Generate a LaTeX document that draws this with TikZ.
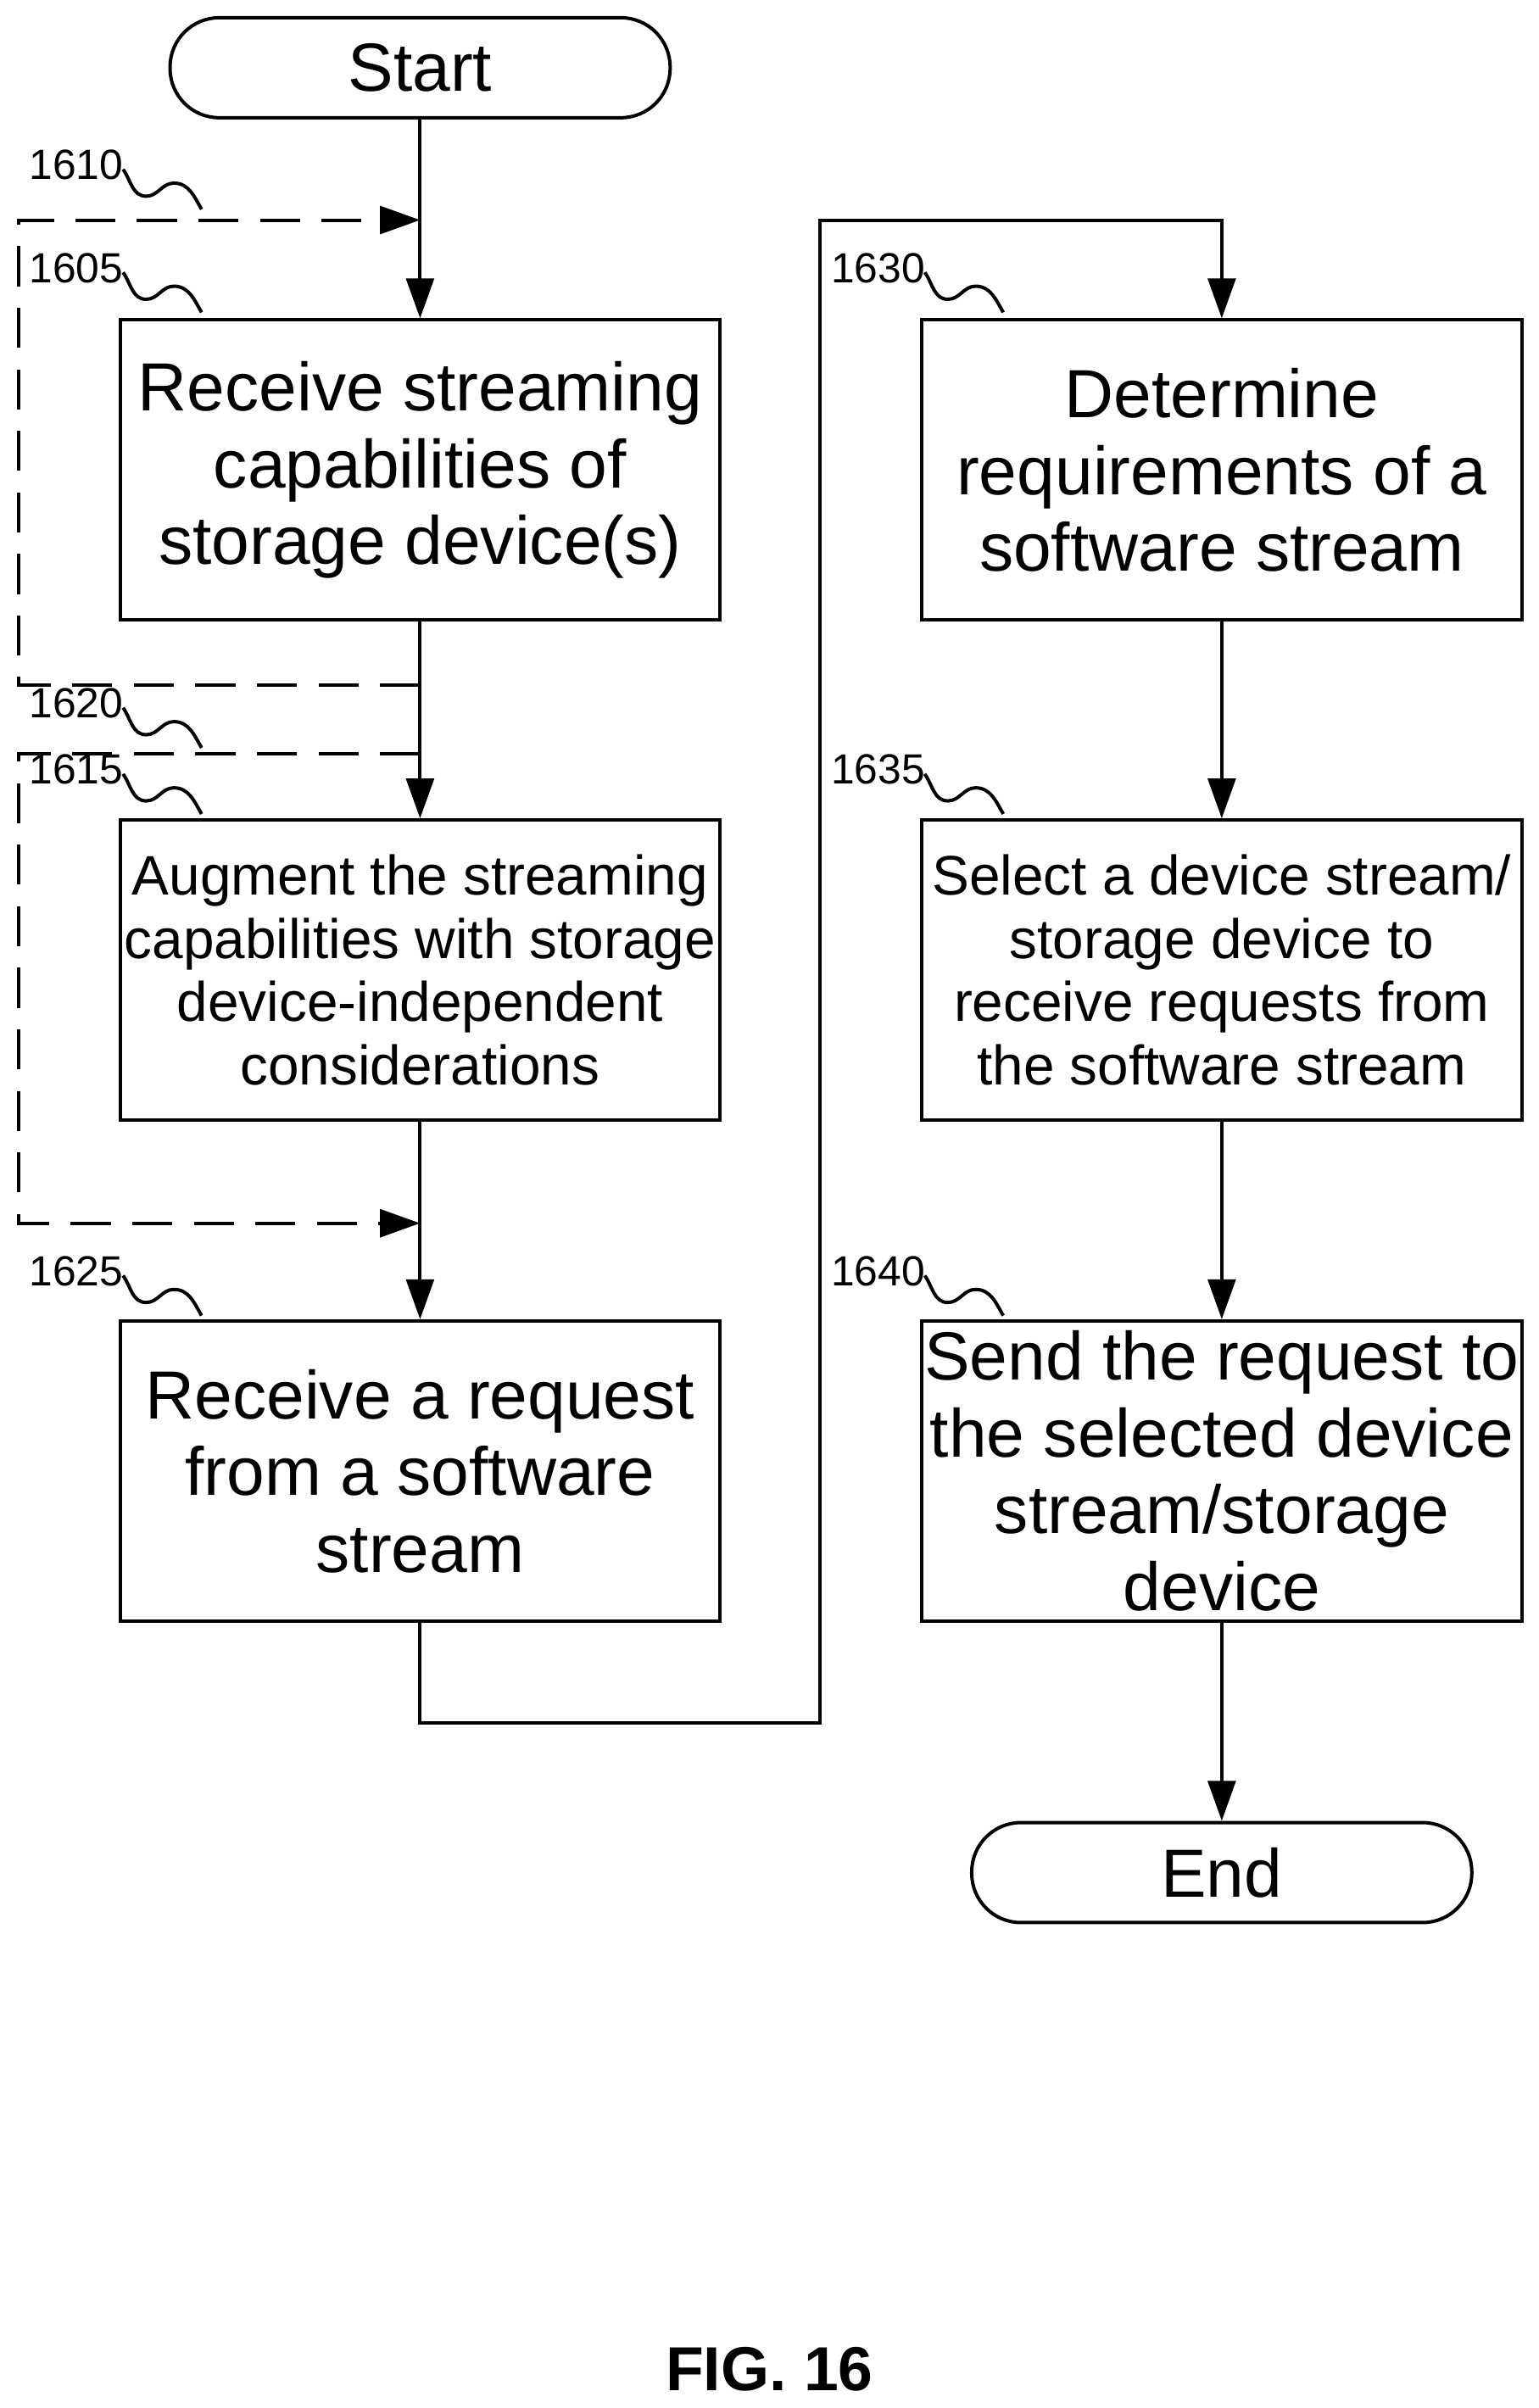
\documentclass[tikz,border=0pt]{standalone}
\usepackage{fontspec}
\setmainfont{Liberation Sans}
\usetikzlibrary{arrows.meta}
\begin{document}
\begin{tikzpicture}[x=0.1mm,y=-0.1mm,
  every path/.style={line width=0.22mm},
  box/.style={draw,minimum width=39mm,minimum height=19.5mm,align=center,inner sep=0},
  big/.style={font=\fontsize{12.6}{14.2}\selectfont},
  small/.style={font=\fontsize{10.3}{11.7}\selectfont},
  pill/.style={draw,rounded corners=3.2mm,minimum width=32.5mm,minimum height=6.5mm,font=\fontsize{12.6}{14.2}\selectfont},
  lab/.style={font=\fontsize{7.8}{9}\selectfont,inner sep=0,anchor=south west},
  arr/.style={-{Triangle[length=2.6mm,width=1.8mm]}},
  dsh/.style={dash pattern=on 2.6mm off 1.4mm}]
\useasboundingbox (0,0) rectangle (1000,1565);
\node[pill] (start) at (273,44) {Start};
\node[box,big] (b1605) at (273,305.5) {Receive streaming\\capabilities of\\storage device(s)};
\node[box,small] (b1615) at (273,630.5) {Augment the streaming\\capabilities with storage\\device-independent\\considerations};
\node[box,big] (b1625) at (273,956) {Receive a request\\from a software\\stream};
\node[box,big] (b1630) at (794,305.5) {Determine\\requirements of a\\software stream};
\node[box,small] (b1635) at (794,630.5) {Select a device stream/\\storage device to\\receive requests from\\the software stream};
\node[box,big] (b1640) at (794,956) {Send the request to\\the selected device\\stream/storage\\device};
\node[pill] (end) at (794,1217) {End};
\node[font=\fontsize{11.5}{13}\selectfont\bfseries] (fig) at (500,1540) {FIG. 16};
% main flow
\draw[arr] (start) -- (b1605);
\draw[arr] (b1605) -- (b1615);
\draw[arr] (b1615) -- (b1625);
\coordinate (c1) at (273,1120); \coordinate (c2) at (533,1120);
\coordinate (c3) at (533,143); \coordinate (c4) at (794,143);
\draw[arr] (b1625.south) -- (c1) -- (c2) -- (c3) -- (c4) -- (b1630.north);
\draw[arr] (b1630) -- (b1635);
\draw[arr] (b1635) -- (b1640);
\draw[arr] (b1640) -- (end);
% dashed loops
\coordinate (d1) at (273,445); \coordinate (d2) at (12,445);
\coordinate (d3) at (12,143); \coordinate (d4) at (273,143);
\draw[dsh,arr] (d1) -- (d2) -- (d3) -- (d4);
\coordinate (e1) at (273,490); \coordinate (e2) at (12,490);
\coordinate (e3) at (12,795); \coordinate (e4) at (273,795);
\draw[dsh,arr] (e1) -- (e2) -- (e3) -- (e4);
% labels
\foreach \n/\x/\y in {1610/18/118,1605/18/185,1620/18/468,1615/18/511,1625/18/837,1630/539/185,1635/539/511,1640/539/837}{
  \node[lab] (l\n) at (\x,\y) {\n};
  \draw (\x+62,\y-8) to[out=-55,in=180] ++(15,17.5) to[out=0,in=180] ++(18,-8.5) to[out=0,in=120] ++(18,17);
}
\end{tikzpicture}
\end{document}
